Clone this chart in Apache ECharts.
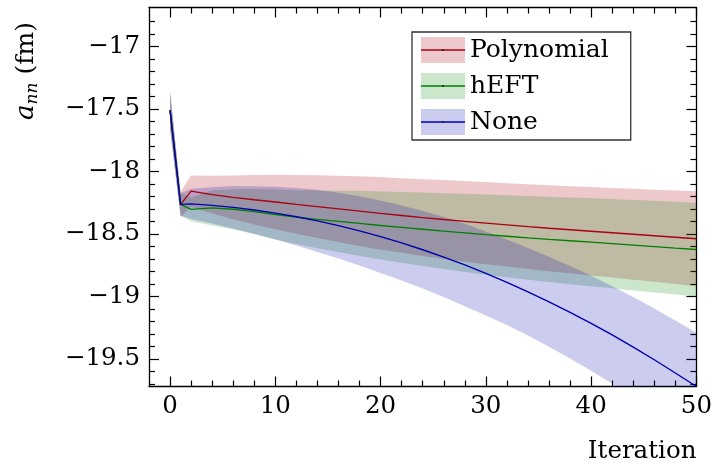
<!DOCTYPE html>
<html>
<head>
<meta charset="utf-8">
<script src="https://cdn.jsdelivr.net/npm/echarts@6/dist/echarts.min.js"></script>
<style>
  html, body { margin: 0; padding: 0; background: #fff; }
  #chart { width: 715px; height: 467px; }
</style>
</head>
<body>
<div id="chart"></div>
<script>
// Iterations at which the fitted scattering length is shown
const iterations = [0, 1, 2, 4, 6, 8, 10, 12, 14, 16, 18, 20, 22, 24, 26, 28, 30, 32, 34, 36, 38, 40, 42, 44, 46, 48, 50];

// Central values (fm) and 1-sigma half widths for each extrapolation scheme
const polyMean = [-17.51, -18.264, -18.158, -18.186, -18.208, -18.227, -18.245, -18.264, -18.282, -18.300, -18.318, -18.336, -18.353, -18.370, -18.385, -18.400, -18.414, -18.428, -18.442, -18.455, -18.467, -18.479, -18.491, -18.503, -18.515, -18.527, -18.539];
const polyErr  = [0.15, 0.10, 0.125, 0.15, 0.175, 0.197, 0.217, 0.235, 0.25, 0.265, 0.278, 0.29, 0.298, 0.306, 0.315, 0.322, 0.328, 0.333, 0.338, 0.343, 0.348, 0.353, 0.358, 0.363, 0.368, 0.374, 0.38];

const heftMean = [-17.51, -18.264, -18.304, -18.292, -18.303, -18.322, -18.345, -18.366, -18.384, -18.400, -18.416, -18.433, -18.448, -18.463, -18.478, -18.492, -18.506, -18.519, -18.532, -18.544, -18.555, -18.566, -18.578, -18.590, -18.602, -18.614, -18.625];
const heftErr  = [0.15, 0.09, 0.095, 0.14, 0.16, 0.18, 0.20, 0.215, 0.23, 0.245, 0.26, 0.272, 0.283, 0.293, 0.303, 0.312, 0.32, 0.328, 0.335, 0.341, 0.347, 0.352, 0.357, 0.362, 0.367, 0.371, 0.375];

const noneMean = [-17.51, -18.264, -18.26, -18.272, -18.288, -18.309, -18.334, -18.363, -18.396, -18.434, -18.476, -18.522, -18.572, -18.627, -18.685, -18.748, -18.816, -18.887, -18.963, -19.043, -19.127, -19.215, -19.308, -19.405, -19.506, -19.612, -19.72];
const noneErr  = [0.15, 0.09, 0.12, 0.145, 0.17, 0.19, 0.21, 0.23, 0.248, 0.263, 0.277, 0.29, 0.30, 0.31, 0.32, 0.33, 0.336, 0.342, 0.35, 0.36, 0.37, 0.38, 0.39, 0.40, 0.41, 0.42, 0.43];

// Axis ticks
const xMajorTicks = [0, 10, 20, 30, 40, 50];
const xMinorTicks = [2, 4, 6, 8, 12, 14, 16, 18, 22, 24, 26, 28, 32, 34, 36, 38, 42, 44, 46, 48];
const yMajorTicks = [-19.5, -19, -18.5, -18, -17.5, -17];
const yMinorTicks = [-19.7, -19.6, -19.4, -19.3, -19.2, -19.1, -18.9, -18.8, -18.7, -18.6, -18.4, -18.3, -18.2, -18.1, -17.9, -17.8, -17.7, -17.6, -17.4, -17.3, -17.2, -17.1, -16.9, -16.8];

const seriesNames = ['Polynomial', 'hEFT', 'None'];
const lineColors = ['#aa0010', '#008000', '#0000b0'];
const bandColors = ['rgba(176,0,16,0.21)', 'rgba(0,128,0,0.2)', 'rgba(0,0,176,0.2)'];

const X_MIN = -2, X_MAX = 50, Y_MIN = -19.72, Y_MAX = -16.69;
const serif = 'DejaVu Serif';
const axisColor = '#000';
const minus = v => (v < 0 ? '\u2212' : '') + Math.abs(v);

function bandSeries(mean, err, color) {
  const lower = mean.map((m, i) => m - err[i]);
  const upper = mean.map((m, i) => m + err[i]);
  return {
    type: 'custom',
    z: 2,
    silent: true,
    data: iterations.map((t, i) => [t, lower[i], upper[i]]),
    encode: { x: 0, y: [1, 2] },
    renderItem(params, api) {
      if (params.dataIndex !== 0) return null;
      const pts = [];
      iterations.forEach((t, i) => pts.push(api.coord([t, upper[i]])));
      for (let i = iterations.length - 1; i >= 0; i--) pts.push(api.coord([iterations[i], lower[i]]));
      const cs = params.coordSys;
      return {
        type: 'polygon',
        shape: { points: pts },
        style: { fill: color },
        clipPath: { type: 'rect', shape: { x: cs.x, y: cs.y, width: cs.width, height: cs.height } }
      };
    }
  };
}

function lineSeries(name, mean, color) {
  return {
    type: 'line',
    name,
    z: 3,
    data: iterations.map((t, i) => [t, mean[i]]),
    showSymbol: false,
    symbol: 'none',
    lineStyle: { color, width: 1.4 },
    itemStyle: { color },
    silent: true
  };
}

function tickAxis(kind, position, values, length, withLine, withLabel, extra) {
  const ax = {
    type: 'value',
    position,
    min: kind === 'x' ? X_MIN : Y_MIN,
    max: kind === 'x' ? X_MAX : Y_MAX,
    splitLine: { show: false },
    axisLine: { show: withLine, onZero: false, lineStyle: { color: axisColor, width: 1.3 } },
    axisTick: { show: true, inside: true, length, customValues: values, lineStyle: { color: axisColor, width: 1.2 } },
    axisLabel: withLabel
      ? { show: true, customValues: values, formatter: minus, fontFamily: serif, fontSize: 24.5, color: '#000', margin: kind === 'x' ? 8 : 9 }
      : { show: false }
  };
  return Object.assign(ax, extra || {});
}

const chart = echarts.init(document.getElementById('chart'), null, { renderer: 'canvas' });

const legendLeft = 412, legendTop = 32, padTop = 5, padLeft = 9, iconW = 44, iconH = 26, rowGap = 10;

const legendLines = [];
seriesNames.forEach((n, i) => {
  const cy = legendTop + padTop + i * (iconH + rowGap) + iconH / 2;
  legendLines.push({
    type: 'line', z: 100, silent: true,
    shape: { x1: legendLeft + padLeft, y1: cy, x2: legendLeft + padLeft + iconW, y2: cy },
    style: { stroke: lineColors[i], lineWidth: 1.4 }
  });
  legendLines.push({
    type: 'circle', z: 101, silent: true,
    shape: { cx: legendLeft + padLeft + iconW / 2, cy, r: 1.1 },
    style: { fill: '#222' }
  });
});

chart.setOption({
  animation: false,
  backgroundColor: '#fff',
  grid: { left: 149, right: 17.5, top: 7.5, bottom: 80.5, containLabel: false },
  xAxis: [
    tickAxis('x', 'bottom', xMajorTicks, 10, true, true, {
      name: 'Iteration',
      nameLocation: 'end',
      nameGap: 0,
      nameTextStyle: { fontFamily: serif, fontSize: 24.5, color: '#000', align: 'right', verticalAlign: 'top', padding: [53, 0, 0, 0] }
    }),
    tickAxis('x', 'bottom', xMinorTicks, 6, false, false),
    tickAxis('x', 'top', xMajorTicks, 10, true, false),
    tickAxis('x', 'top', xMinorTicks, 6, false, false)
  ],
  yAxis: [
    tickAxis('y', 'left', yMajorTicks, 10, true, true),
    tickAxis('y', 'left', yMinorTicks, 6, false, false),
    tickAxis('y', 'right', yMajorTicks, 10, true, false),
    tickAxis('y', 'right', yMinorTicks, 6, false, false)
  ],
  legend: {
    orient: 'vertical',
    left: legendLeft,
    top: legendTop,
    padding: [padTop, 22, 5, padLeft],
    itemGap: rowGap,
    itemWidth: iconW,
    itemHeight: iconH,
    itemTextGap: 10,
    backgroundColor: '#fff',
    borderColor: '#333',
    borderWidth: 1.3,
    borderRadius: 0,
    selectedMode: false,
    textStyle: { fontFamily: serif, fontSize: 25, color: '#000', lineHeight: 26 },
    data: seriesNames.map((n, i) => ({ name: n, icon: 'rect', itemStyle: { color: bandColors[i], borderWidth: 0 } }))
  },
  graphic: [
    {
      type: 'text',
      x: 26,
      y: 71,
      rotation: Math.PI / 2,
      silent: true,
      style: {
        text: '{a|a}{s|nn} (fm)',
        align: 'center',
        verticalAlign: 'middle',
        fontFamily: serif,
        fontSize: 25,
        fill: '#000',
        rich: {
          a: { fontFamily: serif, fontStyle: 'italic', fontSize: 26, lineHeight: 30, verticalAlign: 'middle' },
          s: { fontFamily: serif, fontStyle: 'italic', fontSize: 17, lineHeight: 20, verticalAlign: 'bottom' }
        }
      }
    },
    ...legendLines
  ],
  series: [
    bandSeries(polyMean, polyErr, bandColors[0]),
    bandSeries(heftMean, heftErr, bandColors[1]),
    bandSeries(noneMean, noneErr, bandColors[2]),
    lineSeries(seriesNames[0], polyMean, lineColors[0]),
    lineSeries(seriesNames[1], heftMean, lineColors[1]),
    lineSeries(seriesNames[2], noneMean, lineColors[2])
  ]
});
</script>
</body>
</html>
